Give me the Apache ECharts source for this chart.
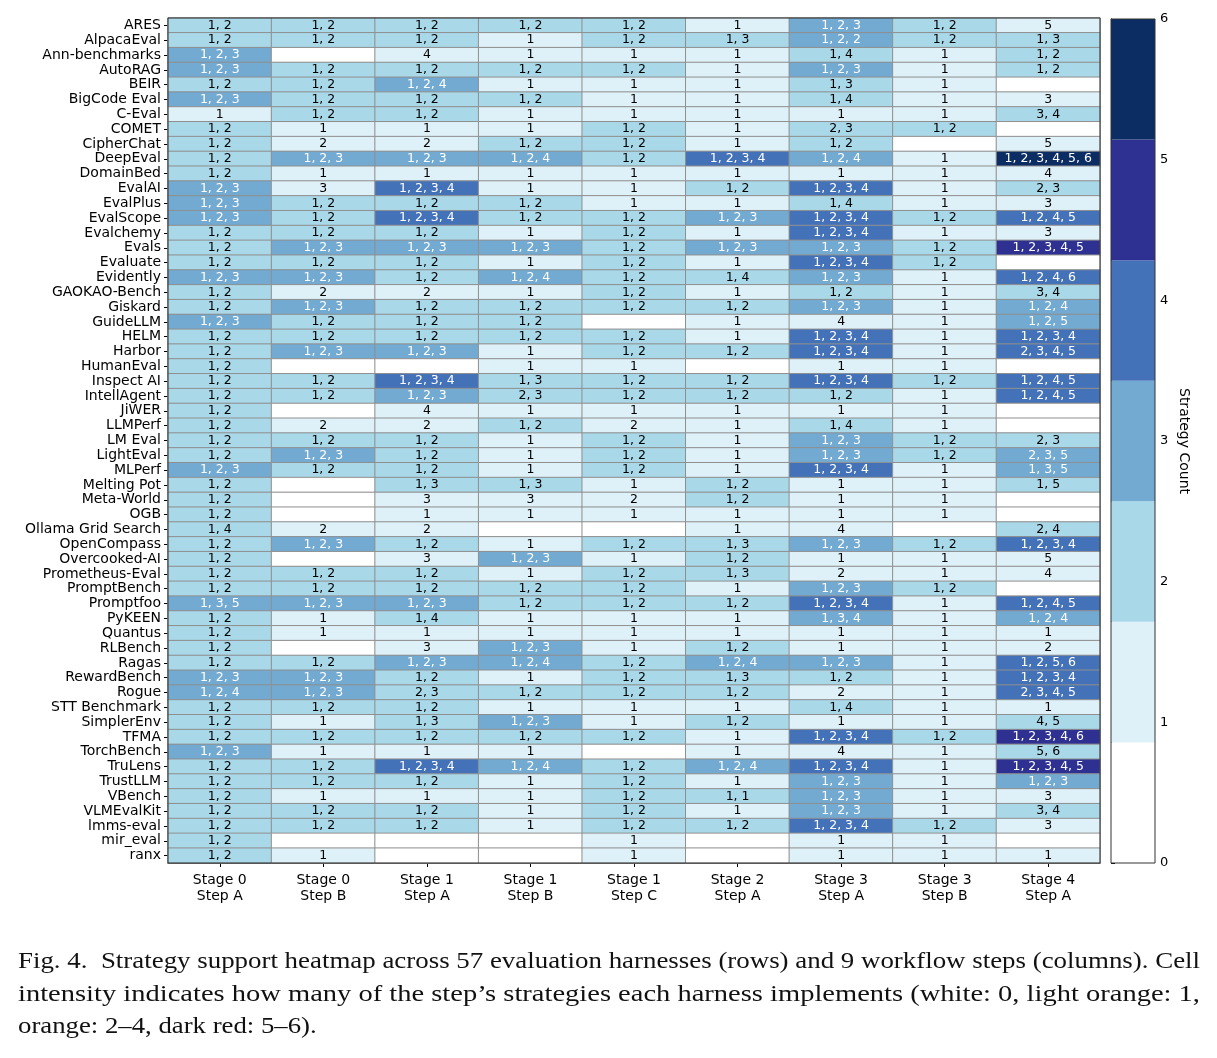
<!DOCTYPE html>
<html>
<head>
<meta charset="utf-8">
<script src="https://cdn.jsdelivr.net/npm/echarts@6/dist/echarts.min.js"></script>
<style>
  html, body { margin: 0; padding: 0; background: #fff; }
  #chart { width: 1217px; height: 1058px; }
</style>
</head>
<body>
<div id="chart"></div>
<script>
// rows (top to bottom) and workflow steps (columns)
const harnesses = [
  'ARES', 'AlpacaEval', 'Ann-benchmarks', 'AutoRAG', 'BEIR', 'BigCode Eval', 'C-Eval', 'COMET', 'CipherChat', 'DeepEval',
  'DomainBed', 'EvalAI', 'EvalPlus', 'EvalScope', 'Evalchemy', 'Evals', 'Evaluate', 'Evidently', 'GAOKAO-Bench', 'Giskard',
  'GuideLLM', 'HELM', 'Harbor', 'HumanEval', 'Inspect AI', 'IntellAgent', 'JiWER', 'LLMPerf', 'LM Eval', 'LightEval',
  'MLPerf', 'Melting Pot', 'Meta-World', 'OGB', 'Ollama Grid Search', 'OpenCompass', 'Overcooked-AI', 'Prometheus-Eval', 'PromptBench', 'Promptfoo',
  'PyKEEN', 'Quantus', 'RLBench', 'Ragas', 'RewardBench', 'Rogue', 'STT Benchmark', 'SimplerEnv', 'TFMA', 'TorchBench',
  'TruLens', 'TrustLLM', 'VBench', 'VLMEvalKit', 'lmms-eval', 'mir_eval', 'ranx'
];
const steps = [
  'Stage 0\nStep A', 'Stage 0\nStep B', 'Stage 1\nStep A', 'Stage 1\nStep B', 'Stage 1\nStep C',
  'Stage 2\nStep A', 'Stage 3\nStep A', 'Stage 3\nStep B', 'Stage 4\nStep A'
];

// strategies implemented per harness, one array per step
const s0a = [
  '1,2', '1,2', '1,2,3', '1,2,3', '1,2', '1,2,3', '1', '1,2', '1,2', '1,2',
  '1,2', '1,2,3', '1,2,3', '1,2,3', '1,2', '1,2', '1,2', '1,2,3', '1,2', '1,2',
  '1,2,3', '1,2', '1,2', '1,2', '1,2', '1,2', '1,2', '1,2', '1,2', '1,2',
  '1,2,3', '1,2', '1,2', '1,2', '1,4', '1,2', '1,2', '1,2', '1,2', '1,3,5',
  '1,2', '1,2', '1,2', '1,2', '1,2,3', '1,2,4', '1,2', '1,2', '1,2', '1,2,3',
  '1,2', '1,2', '1,2', '1,2', '1,2', '1,2', '1,2'
];
const s0b = [
  '1,2', '1,2', '', '1,2', '1,2', '1,2', '1,2', '1', '2', '1,2,3',
  '1', '3', '1,2', '1,2', '1,2', '1,2,3', '1,2', '1,2,3', '2', '1,2,3',
  '1,2', '1,2', '1,2,3', '', '1,2', '1,2', '', '2', '1,2', '1,2,3',
  '1,2', '', '', '', '2', '1,2,3', '', '1,2', '1,2', '1,2,3',
  '1', '1', '', '1,2', '1,2,3', '1,2,3', '1,2', '1', '1,2', '1',
  '1,2', '1,2', '1', '1,2', '1,2', '', '1'
];
const s1a = [
  '1,2', '1,2', '4', '1,2', '1,2,4', '1,2', '1,2', '1', '2', '1,2,3',
  '1', '1,2,3,4', '1,2', '1,2,3,4', '1,2', '1,2,3', '1,2', '1,2', '2', '1,2',
  '1,2', '1,2', '1,2,3', '', '1,2,3,4', '1,2,3', '4', '2', '1,2', '1,2',
  '1,2', '1,3', '3', '1', '2', '1,2', '3', '1,2', '1,2', '1,2,3',
  '1,4', '1', '3', '1,2,3', '1,2', '2,3', '1,2', '1,3', '1,2', '1',
  '1,2,3,4', '1,2', '1', '1,2', '1,2', '', ''
];
const s1b = [
  '1,2', '1', '1', '1,2', '1', '1,2', '1', '1', '1,2', '1,2,4',
  '1', '1', '1,2', '1,2', '1', '1,2,3', '1', '1,2,4', '1', '1,2',
  '1,2', '1,2', '1', '1', '1,3', '2,3', '1', '1,2', '1', '1',
  '1', '1,3', '3', '1', '', '1', '1,2,3', '1', '1,2', '1,2',
  '1', '1', '1,2,3', '1,2,4', '1', '1,2', '1', '1,2,3', '1,2', '1',
  '1,2,4', '1', '1', '1', '1', '', ''
];
const s1c = [
  '1,2', '1,2', '1', '1,2', '1', '1', '1', '1,2', '1,2', '1,2',
  '1', '1', '1', '1,2', '1,2', '1,2', '1,2', '1,2', '1,2', '1,2',
  '', '1,2', '1,2', '1', '1,2', '1,2', '1', '2', '1,2', '1,2',
  '1,2', '1', '2', '1', '', '1,2', '1', '1,2', '1,2', '1,2',
  '1', '1', '1', '1,2', '1,2', '1,2', '1', '1', '1,2', '',
  '1,2', '1,2', '1,2', '1,2', '1,2', '1', '1'
];
const s2a = [
  '1', '1,3', '1', '1', '1', '1', '1', '1', '1', '1,2,3,4',
  '1', '1,2', '1', '1,2,3', '1', '1,2,3', '1', '1,4', '1', '1,2',
  '1', '1', '1,2', '', '1,2', '1,2', '1', '1', '1', '1',
  '1', '1,2', '1,2', '1', '1', '1,3', '1,2', '1,3', '1', '1,2',
  '1', '1', '1,2', '1,2,4', '1,3', '1,2', '1', '1,2', '1', '1',
  '1,2,4', '1', '1,1', '1', '1,2', '', ''
];
const s3a = [
  '1,2,3', '1,2,2', '1,4', '1,2,3', '1,3', '1,4', '1', '2,3', '1,2', '1,2,4',
  '1', '1,2,3,4', '1,4', '1,2,3,4', '1,2,3,4', '1,2,3', '1,2,3,4', '1,2,3', '1,2', '1,2,3',
  '4', '1,2,3,4', '1,2,3,4', '1', '1,2,3,4', '1,2', '1', '1,4', '1,2,3', '1,2,3',
  '1,2,3,4', '1', '1', '1', '4', '1,2,3', '1', '2', '1,2,3', '1,2,3,4',
  '1,3,4', '1', '1', '1,2,3', '1,2', '2', '1,4', '1', '1,2,3,4', '4',
  '1,2,3,4', '1,2,3', '1,2,3', '1,2,3', '1,2,3,4', '1', '1'
];
const s3b = [
  '1,2', '1,2', '1', '1', '1', '1', '1', '1,2', '', '1',
  '1', '1', '1', '1,2', '1', '1,2', '1,2', '1', '1', '1',
  '1', '1', '1', '1', '1,2', '1', '1', '1', '1,2', '1,2',
  '1', '1', '1', '1', '', '1,2', '1', '1', '1,2', '1',
  '1', '1', '1', '1', '1', '1', '1', '1', '1,2', '1',
  '1', '1', '1', '1', '1,2', '1', '1'
];
const s4a = [
  '5', '1,3', '1,2', '1,2', '', '3', '3,4', '', '5', '1,2,3,4,5,6',
  '4', '2,3', '3', '1,2,4,5', '3', '1,2,3,4,5', '', '1,2,4,6', '3,4', '1,2,4',
  '1,2,5', '1,2,3,4', '2,3,4,5', '', '1,2,4,5', '1,2,4,5', '', '', '2,3', '2,3,5',
  '1,3,5', '1,5', '', '', '2,4', '1,2,3,4', '5', '4', '', '1,2,4,5',
  '1,2,4', '1', '2', '1,2,5,6', '1,2,3,4', '2,3,4,5', '1', '4,5', '1,2,3,4,6', '5,6',
  '1,2,3,4,5', '1,2,3', '3', '3,4', '3', '', '1'
];

const palette = ['#ffffff', '#dff1f8', '#a9d8e8', '#72aad2', '#4472b8', '#2f3192', '#0b2d64'];
const countMax = 6;

const captionLines = [
  'Fig. 4.  Strategy support heatmap across 57 evaluation harnesses (rows) and 9 workflow steps (columns). Cell',
  'intensity indicates how many of the step\u2019s strategies each harness implements (white: 0, light orange: 1,',
  'orange: 2\u20134, dark red: 5\u20136).'
];

const columns = [s0a, s0b, s1a, s1b, s1c, s2a, s3a, s3b, s4a];

const cells = [];
columns.forEach((col, x) => {
  col.forEach((s, y) => {
    const items = s ? s.split(',') : [];
    const n = items.length;
    cells.push({
      value: [x, y, n],
      text: items.join(', '),
      label: { color: n >= 3 ? '#ffffff' : '#000000' }
    });
  });
});

// colour bar bands, equal width over 0..countMax
const bands = palette.map((c, k) => [k * countMax / palette.length, (k + 1) * countMax / palette.length]);

// caption: serif, stretched horizontally so justified lines fill the width
const capFont = '24px "Liberation Serif"';
const ctx = document.createElement('canvas').getContext('2d');
ctx.font = capFont;
const capWidth = 1182;
const baseScale = 1.115;
const captionGraphics = captionLines.map((t, i) => {
  const w = ctx.measureText(t).width;
  const sx = i < 2 ? capWidth / w : baseScale;
  return {
    type: 'text', x: 18, y: 962 + i * 32.5, scaleX: sx,
    style: { text: t, font: capFont, fill: '#111', verticalAlign: 'middle' }
  };
});

const chart = echarts.init(document.getElementById('chart'));

const font = 'DejaVu Sans';

const option = {
  backgroundColor: '#ffffff',
  animation: false,
  textStyle: { fontFamily: font },
  grid: [
    { left: 168, right: 117, top: 18, bottom: 195, show: true, z: 10,
      borderColor: '#333', borderWidth: 1, backgroundColor: 'transparent' },
    { left: 1111, width: 44, top: 19, bottom: 195, show: true, z: 10,
      borderColor: '#333', borderWidth: 1, backgroundColor: 'transparent' }
  ],
  xAxis: [
    {
      type: 'category', gridIndex: 0, data: steps, position: 'bottom',
      axisLine: { show: true, lineStyle: { color: '#000' } },
      axisTick: { show: true, alignWithLabel: true, interval: 0, length: 4, lineStyle: { color: '#000' } },
      axisLabel: { color: '#000', fontSize: 14, lineHeight: 16, margin: 9, interval: 0, fontFamily: font },
      splitLine: { show: false }, splitArea: { show: false }
    },
    { type: 'value', gridIndex: 1, min: 0, max: 1, show: false }
  ],
  yAxis: [
    {
      type: 'category', gridIndex: 0, data: harnesses, inverse: true,
      axisLine: { show: true, lineStyle: { color: '#000' } },
      axisTick: { show: true, alignWithLabel: true, interval: 0, length: 4, lineStyle: { color: '#000' } },
      axisLabel: { color: '#000', fontSize: 14, margin: 7, interval: 0, fontFamily: font },
      splitLine: { show: false }, splitArea: { show: false }
    },
    {
      type: 'value', gridIndex: 1, min: 0, max: countMax, interval: 1, position: 'right',
      name: 'Strategy Count', nameLocation: 'middle', nameRotate: -90, nameGap: 22,
      nameTextStyle: { color: '#000', fontSize: 14, fontFamily: font },
      axisLine: { show: true, lineStyle: { color: '#000' } },
      axisTick: { show: true, length: 4, lineStyle: { color: '#000' } },
      axisLabel: { color: '#000', fontSize: 13, margin: 5, fontFamily: font },
      splitLine: { show: false }
    }
  ],
  visualMap: {
    type: 'piecewise', show: false, seriesIndex: 0, dimension: 2,
    pieces: palette.map((c, k) => ({ value: k, color: c }))
  },
  series: [
    {
      type: 'heatmap', xAxisIndex: 0, yAxisIndex: 0,
      data: cells,
      itemStyle: { borderColor: '#8f8f8f', borderWidth: 1 },
      label: {
        show: true, fontSize: 12.5, fontFamily: font,
        formatter: p => p.data.text
      },
      emphasis: { disabled: true }
    },
    {
      type: 'custom', xAxisIndex: 1, yAxisIndex: 1,
      data: bands,
      encode: { y: [0, 1] },
      renderItem: (params, api) => {
        const p0 = api.coord([0, api.value(1)]);
        const p1 = api.coord([1, api.value(0)]);
        return {
          type: 'rect',
          shape: { x: p0[0], y: p0[1], width: p1[0] - p0[0], height: p1[1] - p0[1] },
          style: { fill: palette[params.dataIndex] }
        };
      },
      silent: true
    }
  ],
  graphic: captionGraphics
};

chart.setOption(option);
</script>
</body>
</html>
